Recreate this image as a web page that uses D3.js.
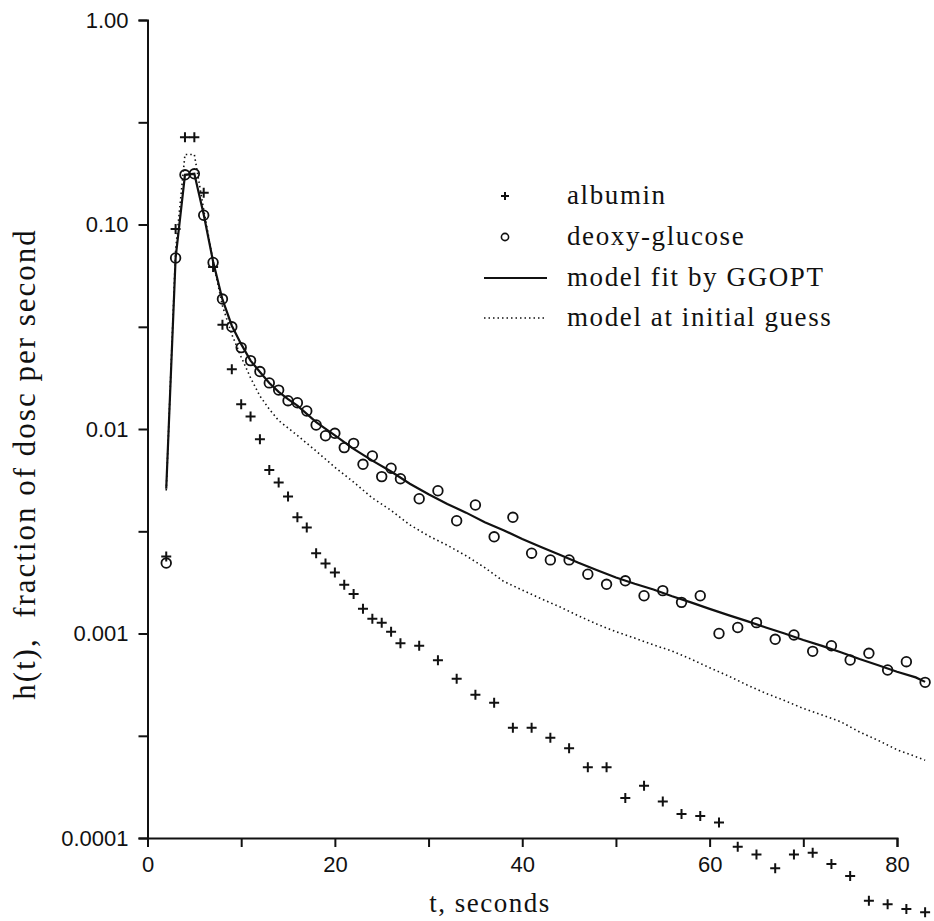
<!DOCTYPE html>
<html>
<head>
<meta charset="utf-8">
<script src="https://cdn.jsdelivr.net/npm/d3@7"></script>
<style>
  body { margin: 0; background: #fff; }
  svg { display: block; }
</style>
</head>
<body>
<svg id="chart"></svg>
<script>
// data -------------------------------------------------------------
// albumin (+)
let albuminT = [2, 3, 4, 5, 6, 7, 8, 9, 10, 11, 12, 13, 14, 15, 16, 17, 18, 19, 20, 21, 22, 23, 24, 25, 26, 27,
    29, 31, 33, 35, 37, 39, 41, 43, 45, 47, 49, 51, 53, 55, 57, 59, 61, 63, 65, 67, 69, 71, 73, 75, 77, 79, 81, 83];
let albuminH = [0.00238, 0.095, 0.267, 0.267, 0.143, 0.062, 0.0323, 0.0196, 0.0132, 0.0115, 0.0089, 0.0063,
    0.00548, 0.00467, 0.0037, 0.0033, 0.00247, 0.0022, 0.00199, 0.00173, 0.00156, 0.00132, 0.00118, 0.00113,
    0.00102, 0.000896, 0.000872, 0.00074, 0.000601, 0.000502, 0.000459, 0.000346, 0.000346, 0.000309,
    0.000275, 0.000222, 0.000222, 0.000157, 0.00018, 0.000151, 0.000131, 0.000128, 0.000119, 0.0000906,
    0.0000831, 0.0000711, 0.0000831, 0.0000848, 0.0000746, 0.0000652, 0.0000493, 0.0000474, 0.000045, 0.0000433];

// deoxy-glucose (o)
let glucoseT = [2, 3, 4, 5, 6, 7, 8, 9, 10, 11, 12, 13, 14, 15, 16, 17, 18, 19, 20, 21, 22, 23, 24, 25, 26, 27,
    29, 31, 33, 35, 37, 39, 41, 43, 45, 47, 49, 51, 53, 55, 57, 59, 61, 63, 65, 67, 69, 71, 73, 75, 77, 79, 81, 83];
let glucoseH = [0.00221, 0.0686, 0.175, 0.177, 0.111, 0.0652, 0.0432, 0.0316, 0.025, 0.0216, 0.0191, 0.0168,
    0.0155, 0.01375, 0.01345, 0.01225, 0.01046, 0.00927, 0.00953, 0.00811, 0.00851, 0.00672, 0.00738, 0.00585,
    0.00643, 0.00571, 0.00456, 0.00499, 0.00356, 0.00425, 0.00297, 0.0037, 0.00247, 0.00229, 0.00229, 0.00195,
    0.00174, 0.00181, 0.00153, 0.00162, 0.00142, 0.00153, 0.001, 0.00107, 0.00113, 0.000937, 0.000984,
    0.000818, 0.000871, 0.000742, 0.0008, 0.000663, 0.000728, 0.000577];

// model fit by GGOPT (solid)
let fitT = [2, 3, 4, 5, 6, 7, 8, 9, 10, 11, 12, 13, 14, 15, 16, 18, 20, 22, 24, 26, 28, 30, 32, 34, 36, 38, 40,
    42, 44, 46, 48, 50, 52, 54, 56, 58, 60, 62, 64, 66, 68, 70, 72, 74, 76, 78, 80, 82, 83];
let fitH = [0.0051, 0.0686, 0.175, 0.177, 0.112, 0.066, 0.043, 0.032, 0.026, 0.0216, 0.019, 0.0168, 0.0152,
    0.014, 0.013, 0.0108, 0.0093, 0.008, 0.007, 0.0062, 0.0054, 0.0048, 0.0043, 0.0039, 0.0035, 0.0032, 0.0029,
    0.00265, 0.00243, 0.00222, 0.00204, 0.00188, 0.00175, 0.00164, 0.00152, 0.00142, 0.00132, 0.00123,
    0.00115, 0.00107, 0.001, 0.00093, 0.00087, 0.00081, 0.00075, 0.0007, 0.00065, 0.00061, 0.00058];

// model at initial guess (dotted)
let guessT = [2, 3, 4, 5, 6, 7, 8, 9, 10, 11, 12, 13, 14, 16, 18, 20, 22, 24, 26, 28, 30, 32, 34, 36, 38, 40,
    42, 44, 46, 48, 50, 52, 54, 56, 58, 60, 62, 64, 66, 68, 70, 72, 74, 76, 78, 80, 82, 83];
let guessH = [0.005, 0.075, 0.22, 0.22, 0.118, 0.066, 0.04, 0.029, 0.0225, 0.0178, 0.0145, 0.0125, 0.011,
    0.0093, 0.0078, 0.0065, 0.0055, 0.0046, 0.004, 0.0034, 0.003, 0.0027, 0.0024, 0.0021, 0.0018, 0.00163,
    0.00148, 0.00135, 0.00122, 0.00111, 0.00102, 0.00095, 0.00088, 0.00082, 0.00075, 0.00068, 0.00062,
    0.00056, 0.00051, 0.00047, 0.00043, 0.0004, 0.00037, 0.00033, 0.0003, 0.00027, 0.00025, 0.00024];

// ticks
let xTicks = [0, 20, 40, 60, 80];
let xMinorTicks = [10, 30, 50, 70];
let yTicks = [1, 0.1, 0.01, 0.001, 0.0001];
let yTickLabels = ["1.00", "0.10", "0.01", "0.001", "0.0001"];
let yMinorTicks = [0.316, 0.0316, 0.00316, 0.000316];

let legendLabels = ["albumin", "deoxy-glucose", "model fit by GGOPT", "model at initial guess"];

// svg spec ---------------------------------------------------------
let width = 934;
let height = 921;
let margin = {top: 20, right: 37, bottom: 83, left: 147.5};

let svg, plot, xScale, yScale;

const sansFont = "'Liberation Sans', Arial, sans-serif";
const serifFont = "'Liberation Serif', 'Times New Roman', serif";
const ink = "#111";

function zip(ts, hs) {
    return ts.map((t, i) => ({t: t, h: hs[i]}));
}

function init() {
    svg = d3.select("#chart")
        .attr("width", width)
        .attr("height", height);

    xScale = d3.scaleLinear()
        .domain([0, 80])
        .range([margin.left, width - margin.right]);

    yScale = d3.scaleLog()
        .domain([0.0001, 1])
        .range([height - margin.bottom, margin.top]);

    plot = svg.append("g");
}

function drawAxes() {
    const xAxis = svg.append("g")
        .attr("transform", `translate(0, ${height - margin.bottom})`)
        .call(d3.axisBottom(xScale).tickValues(xTicks).tickSize(9).tickPadding(9).tickFormat(d3.format("d")));

    svg.append("g")
        .attr("transform", `translate(0, ${height - margin.bottom})`)
        .call(d3.axisBottom(xScale).tickValues(xMinorTicks).tickSize(9).tickFormat(""))
        .call(g => g.select(".domain").remove());

    const yAxis = svg.append("g")
        .attr("transform", `translate(${margin.left}, 0)`)
        .call(d3.axisLeft(yScale).tickValues(yTicks).tickSize(9).tickPadding(10)
            .tickFormat((d, i) => yTickLabels[i]));

    svg.append("g")
        .attr("transform", `translate(${margin.left}, 0)`)
        .call(d3.axisLeft(yScale).tickValues(yMinorTicks).tickSize(9).tickFormat(""))
        .call(g => g.select(".domain").remove());

    svg.selectAll(".domain, .tick line")
        .attr("stroke", ink)
        .attr("stroke-width", 2);

    [xAxis, yAxis].forEach(a => a.selectAll(".tick text")
        .attr("font-family", sansFont)
        .attr("font-size", 22)
        .attr("fill", ink));

    // axis titles
    svg.append("text")
        .attr("x", 490)
        .attr("y", 912)
        .attr("text-anchor", "middle")
        .attr("font-family", serifFont)
        .attr("font-size", 27)
        .attr("letter-spacing", 1.5)
        .attr("fill", ink)
        .text("t, seconds");

    svg.append("text")
        .attr("transform", "translate(35, 464) rotate(-90)")
        .attr("text-anchor", "middle")
        .attr("font-family", serifFont)
        .attr("font-size", 31)
        .attr("letter-spacing", 2)
        .attr("fill", ink)
        .attr("xml:space", "preserve")
        .style("white-space", "pre")
        .text("h(t),  fraction of dosc per second");
}

function plusPath(size) {
    return `M${-size},0H${size}M0,${-size}V${size}`;
}

function drawSeries() {
    const line = d3.line()
        .x(d => xScale(d.t))
        .y(d => yScale(d.h));

    plot.append("path")
        .datum(zip(guessT, guessH))
        .attr("d", line)
        .attr("fill", "none")
        .attr("stroke", ink)
        .attr("stroke-width", 1.6)
        .attr("stroke-dasharray", "1.5,3");

    plot.append("path")
        .datum(zip(fitT, fitH))
        .attr("d", line)
        .attr("fill", "none")
        .attr("stroke", ink)
        .attr("stroke-width", 2.2);

    plot.selectAll(".albumin")
        .data(zip(albuminT, albuminH))
        .join("path")
        .attr("class", "albumin")
        .attr("transform", d => `translate(${xScale(d.t)}, ${yScale(d.h)})`)
        .attr("d", plusPath(5))
        .attr("stroke", ink)
        .attr("stroke-width", 2);

    plot.selectAll(".glucose")
        .data(zip(glucoseT, glucoseH))
        .join("circle")
        .attr("class", "glucose")
        .attr("cx", d => xScale(d.t))
        .attr("cy", d => yScale(d.h))
        .attr("r", 4.8)
        .attr("fill", "none")
        .attr("stroke", ink)
        .attr("stroke-width", 1.8);
}

function drawLegend() {
    const legend = svg.append("g");
    const rowY = [196, 237, 278, 318];

    legend.append("path")
        .attr("transform", `translate(505, ${rowY[0]})`)
        .attr("d", plusPath(4))
        .attr("stroke", ink)
        .attr("stroke-width", 2);

    legend.append("circle")
        .attr("cx", 505)
        .attr("cy", rowY[1])
        .attr("r", 3.6)
        .attr("fill", "none")
        .attr("stroke", ink)
        .attr("stroke-width", 1.6);

    legend.append("line")
        .attr("x1", 484).attr("x2", 547)
        .attr("y1", rowY[2]).attr("y2", rowY[2])
        .attr("stroke", ink)
        .attr("stroke-width", 2);

    legend.append("line")
        .attr("x1", 484).attr("x2", 547)
        .attr("y1", rowY[3]).attr("y2", rowY[3])
        .attr("stroke", ink)
        .attr("stroke-width", 1.4)
        .attr("stroke-dasharray", "1.5,3");

    legend.selectAll("text")
        .data(legendLabels)
        .join("text")
        .attr("x", 567)
        .attr("y", (d, i) => rowY[i] + 8)
        .attr("font-family", serifFont)
        .attr("font-size", 27)
        .attr("letter-spacing", 1.6)
        .attr("fill", ink)
        .text(d => d);
}

init();
drawAxes();
drawSeries();
drawLegend();
</script>
</body>
</html>
